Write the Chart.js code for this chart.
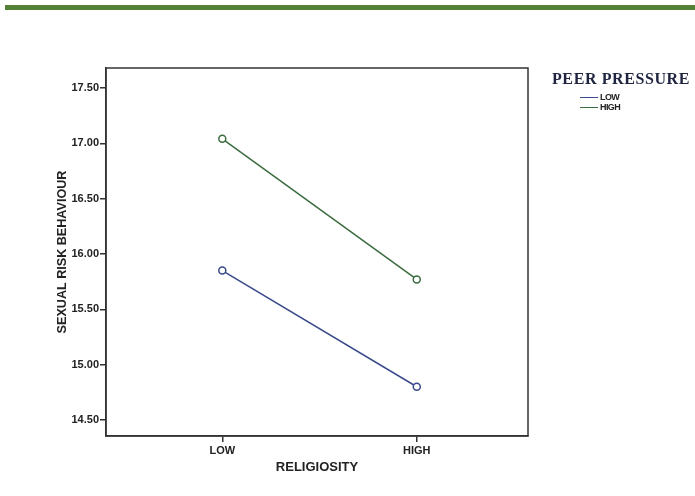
<!DOCTYPE html>
<html>
<head>
<meta charset="utf-8">
<script src="https://cdn.jsdelivr.net/npm/chart.js@4"></script>
<style>
  html, body { margin: 0; padding: 0; background: #fff; }
  #wrap { position: relative; width: 695px; height: 496px; }
  #bar { position: absolute; left: 5px; top: 5px; width: 690px; height: 5px; background: #538135; }
  #legend { position: absolute; left: 552px; top: 70px; }
  #legend .ttl { font-family: "Liberation Serif", serif; font-weight: bold; font-size: 16px; color: #1f2440; letter-spacing: 0.6px; margin-bottom: 4px; }
  #legend .item { position: relative; height: 10px; margin-left: 28px; font-family: "Liberation Sans", Arial, sans-serif; font-weight: bold; font-size: 9px; line-height: 10px; color: #222; letter-spacing: -0.6px; }
  #legend .item span.ln { position: absolute; left: 0; top: 5px; width: 18px; height: 1px; }
  #legend .item span.tx { position: absolute; left: 20px; top: 0; }
</style>
</head>
<body>
<div id="wrap">
  <canvas id="c" width="695" height="496"></canvas>
  <div id="bar"></div>
  <div id="legend"></div>
</div>
<script>
const categories = ["LOW", "HIGH"];
const seriesNames = ["LOW", "HIGH"];
const lowPeerValues = [15.85, 14.80];
const highPeerValues = [17.04, 15.77];
const yTickValues = [14.50, 15.00, 15.50, 16.00, 16.50, 17.00, 17.50];
const legendTitle = "PEER PRESSURE";
const xTitle = "RELIGIOSITY";
const yTitle = "SEXUAL RISK BEHAVIOUR";

const colors = ["#3a4a8c", "#3b6b3e"];
const seriesValues = [lowPeerValues, highPeerValues];

const datasets = seriesValues.map((vals, si) => ({
  label: seriesNames[si],
  data: vals.map((v, i) => ({ x: i, y: v })),
  borderColor: colors[si],
  backgroundColor: "#ffffff",
  borderWidth: 1.5,
  pointRadius: 3.5,
  pointBorderWidth: 1.5,
  pointBackgroundColor: "#ffffff",
  pointBorderColor: colors[si],
  tension: 0
}));

// legend
const lg = document.getElementById("legend");
const t = document.createElement("div");
t.className = "ttl"; t.textContent = legendTitle;
lg.appendChild(t);
seriesNames.forEach((n, i) => {
  const d = document.createElement("div");
  d.className = "item";
  d.innerHTML = '<span class="ln" style="background:' + colors[i] + '"></span><span class="tx">' + n + '</span>';
  lg.appendChild(d);
});

const boxPlugin = {
  id: "box",
  afterDraw(chart) {
    const a = chart.chartArea, ctx = chart.ctx;
    ctx.save();
    ctx.strokeStyle = "#333";
    ctx.lineWidth = 1.5;
    ctx.strokeRect(a.left, a.top, a.right - a.left, a.bottom - a.top);
    ctx.restore();
  }
};

const tickFont = { family: "'Liberation Sans', Arial, sans-serif", weight: "bold", size: 11 };

new Chart(document.getElementById("c"), {
  type: "line",
  data: { datasets },
  plugins: [boxPlugin],
  options: {
    responsive: false,
    animation: false,
    layout: { padding: { top: 68, right: 167, left: 0, bottom: 0 } },
    plugins: { legend: { display: false }, tooltip: { enabled: false } },
    scales: {
      x: {
        type: "linear",
        min: -0.598, max: 1.572,
        afterBuildTicks: (s) => { s.ticks = categories.map((c, i) => ({ value: i })); },
        afterFit: (s) => { s.height = 60; },
        ticks: { callback: (v) => categories[v], color: "#222", font: tickFont, padding: 2, maxRotation: 0 },
        grid: { drawOnChartArea: false, drawTicks: true, tickLength: 6, color: "#333", lineWidth: 1.5 },
        border: { display: true, color: "#333", width: 1.5 },
        title: { display: true, text: xTitle, color: "#222", font: { family: "'Liberation Sans', Arial, sans-serif", weight: "bold", size: 13 }, padding: { top: 0, bottom: 21 } }
      },
      y: {
        type: "linear",
        min: 14.355, max: 17.68,
        afterBuildTicks: (s) => { s.ticks = yTickValues.map(v => ({ value: v })); },
        afterFit: (s) => { s.width = 106; },
        ticks: { callback: (v) => v.toFixed(2), color: "#222", font: tickFont, padding: 1 },
        grid: { drawOnChartArea: false, drawTicks: true, tickLength: 6, color: "#333", lineWidth: 1.5 },
        border: { display: true, color: "#333", width: 1.5 },
        title: { display: true, text: yTitle, color: "#222", font: { family: "'Liberation Sans', Arial, sans-serif", weight: "bold", size: 12.6 }, padding: { top: 55, bottom: 0 } }
      }
    }
  }
});
</script>
</body>
</html>
